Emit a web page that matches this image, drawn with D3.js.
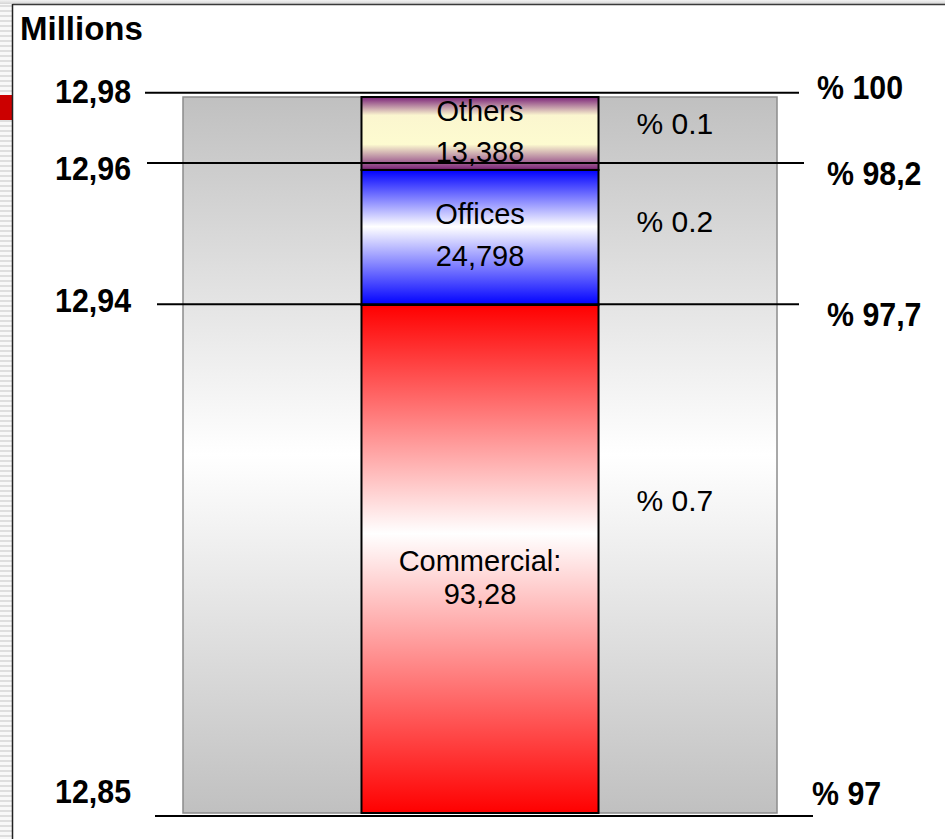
<!DOCTYPE html>
<html>
<head>
<meta charset="utf-8">
<script src="https://cdn.jsdelivr.net/npm/d3@7"></script>
<style>
  html, body { margin: 0; padding: 0; background: #fff; }
  svg { display: block; }
</style>
</head>
<body>
<svg id="chart" width="945" height="839"></svg>
<script>
// Floor-area breakdown, stacked bottom to top
const categories = ["Commercial:", "Offices", "Others"];
const values = [93.28, 24.798, 13.388];
const valueLabels = ["93,28", "24,798", "13,388"];
const shareLabels = ["% 0.7", "% 0.2", "% 0.1"];

// Reference levels (bottom to top), expressed in the same units as the stack
const leftTickLabels = ["12,85", "12,94", "12,96", "12,98"];
const rightTickLabels = ["% 97", "% 97,7", "% 98,2", "% 100"];
const guideLevels = [-0.55, 93.4, 119.35, 132.25];
const unitLabel = "Millions";

const svg = d3.select("#chart");
const W = 945, H = 839;
const FONT = "'Liberation Sans', Arial, Helvetica, sans-serif";

// ---- layout ----
const plot = { left: 183, right: 777, top: 97, bottom: 813 };
const labelLayout = {
  leftEnd: 131,
  leftDy: [-13, 8, 17, 10],
  rightX: [812, 827, 827, 817],
  rightDy: [-11, 22, 22, 6],
  guideSpan: [[155, 813], [157, 799], [147, 804], [145, 799]],
  nameDy: [12, -13, -12],
  valueDy: [45, 29, 29],
  shareDy: [-48, -5, 1],
  shareGap: 38
};

// ---- scales ----
const total = d3.sum(values);
const y = d3.scaleLinear().domain([0, total]).range([plot.bottom, plot.top]);
const x = d3.scaleBand().domain(["area"]).range([plot.left, plot.right])
  .paddingInner(0).paddingOuter(0.753);

const row = {};
categories.forEach((c, i) => row[c] = values[i]);
const stacked = d3.stack().keys(categories)([row]);

// ---- defs: gradients and patterns ----
const defs = svg.append("defs");
function vGrad(id, stops) {
  const g = defs.append("linearGradient").attr("id", id)
    .attr("x1", 0).attr("y1", 0).attr("x2", 0).attr("y2", 1);
  stops.forEach(([o, c]) => g.append("stop").attr("offset", o).attr("stop-color", c));
}
vGrad("bgGrad", [[0, "#c0c0c0"], [0.5, "#ffffff"], [1, "#c0c0c0"]]);
vGrad("segGrad0", [[0, "#ff0000"], [0.45, "#ffffff"], [1, "#ff0000"]]);
vGrad("segGrad1", [[0, "#0000ff"], [0.42, "#ffffff"], [1, "#0000ff"]]);
vGrad("segGrad2", [[0, "#7a2278"], [0.25, "#fbf6cf"], [0.65, "#fdfbd0"], [1, "#7a2278"]]);
vGrad("topStrip", [[0, "#f2f2f2"], [1, "#d4d4d4"]]);

const stripe = defs.append("pattern").attr("id", "stripes")
  .attr("patternUnits", "userSpaceOnUse").attr("width", 12).attr("height", 5);
stripe.append("rect").attr("width", 12).attr("height", 5).attr("fill", "#f8f8f8");
stripe.append("rect").attr("width", 12).attr("height", 2).attr("fill", "#dedede");

// ---- slide frame ----
svg.append("rect").attr("x", 0).attr("y", 0).attr("width", 12).attr("height", H)
  .attr("fill", "url(#stripes)");
svg.append("rect").attr("x", 0).attr("y", 0).attr("width", W).attr("height", 4)
  .attr("fill", "url(#topStrip)");
svg.append("rect").attr("x", 0).attr("y", 95).attr("width", 12).attr("height", 25)
  .attr("fill", "#cc0000");
svg.append("line").attr("x1", 12.5).attr("x2", W).attr("y1", 4.5).attr("y2", 4.5)
  .attr("stroke", "#3a3a3a").attr("stroke-width", 1.5);
svg.append("line").attr("x1", 12.5).attr("x2", 12.5).attr("y1", 4).attr("y2", H)
  .attr("stroke", "#222").attr("stroke-width", 1.5);

// ---- plot background ----
svg.append("rect")
  .attr("x", plot.left).attr("y", plot.top)
  .attr("width", plot.right - plot.left).attr("height", plot.bottom - plot.top)
  .attr("fill", "url(#bgGrad)")
  .attr("stroke", "#8c8c8c").attr("stroke-width", 1.5);

// ---- stacked bar ----
const segG = svg.append("g");
stacked.forEach((layer, i) => {
  const d = layer[0];
  segG.append("rect")
    .attr("x", x("area")).attr("width", x.bandwidth())
    .attr("y", y(d[1])).attr("height", y(d[0]) - y(d[1]))
    .attr("fill", `url(#segGrad${i})`)
    .attr("stroke", "#000").attr("stroke-width", 2);
});

// ---- guide lines ----
guideLevels.forEach((v, i) => {
  const [x1, x2] = labelLayout.guideSpan[i];
  svg.append("line")
    .attr("x1", x1).attr("x2", x2)
    .attr("y1", y(v)).attr("y2", y(v))
    .attr("stroke", "#000").attr("stroke-width", 2);
});

// ---- segment labels ----
const cx = x("area") + x.bandwidth() / 2;
stacked.forEach((layer, i) => {
  const d = layer[0];
  const mid = (y(d[0]) + y(d[1])) / 2;
  svg.append("text").attr("x", cx).attr("y", mid + labelLayout.nameDy[i])
    .attr("text-anchor", "middle").attr("font-family", FONT).attr("font-size", 29)
    .attr("fill", "#000").text(categories[i]);
  svg.append("text").attr("x", cx).attr("y", mid + labelLayout.valueDy[i])
    .attr("text-anchor", "middle").attr("font-family", FONT).attr("font-size", 29)
    .attr("fill", "#000").text(valueLabels[i]);
  svg.append("text")
    .attr("x", x("area") + x.bandwidth() + labelLayout.shareGap)
    .attr("y", mid + labelLayout.shareDy[i])
    .attr("font-family", FONT).attr("font-size", 30)
    .attr("fill", "#000").text(shareLabels[i]);
});

// ---- axis labels ----
function squeezed(txt, px, py, anchor) {
  svg.append("text")
    .attr("transform", `translate(${px},${py}) scale(0.92,1)`)
    .attr("text-anchor", anchor)
    .attr("font-family", FONT).attr("font-size", 33).attr("font-weight", "bold")
    .attr("fill", "#000").text(txt);
}
guideLevels.forEach((v, i) => {
  squeezed(leftTickLabels[i], labelLayout.leftEnd, y(v) + labelLayout.leftDy[i], "end");
  squeezed(rightTickLabels[i], labelLayout.rightX[i], y(v) + labelLayout.rightDy[i], "start");
});

svg.append("text").attr("x", 20).attr("y", 40)
  .attr("font-family", FONT).attr("font-size", 33).attr("font-weight", "bold")
  .attr("fill", "#000").text(unitLabel);
</script>
</body>
</html>
